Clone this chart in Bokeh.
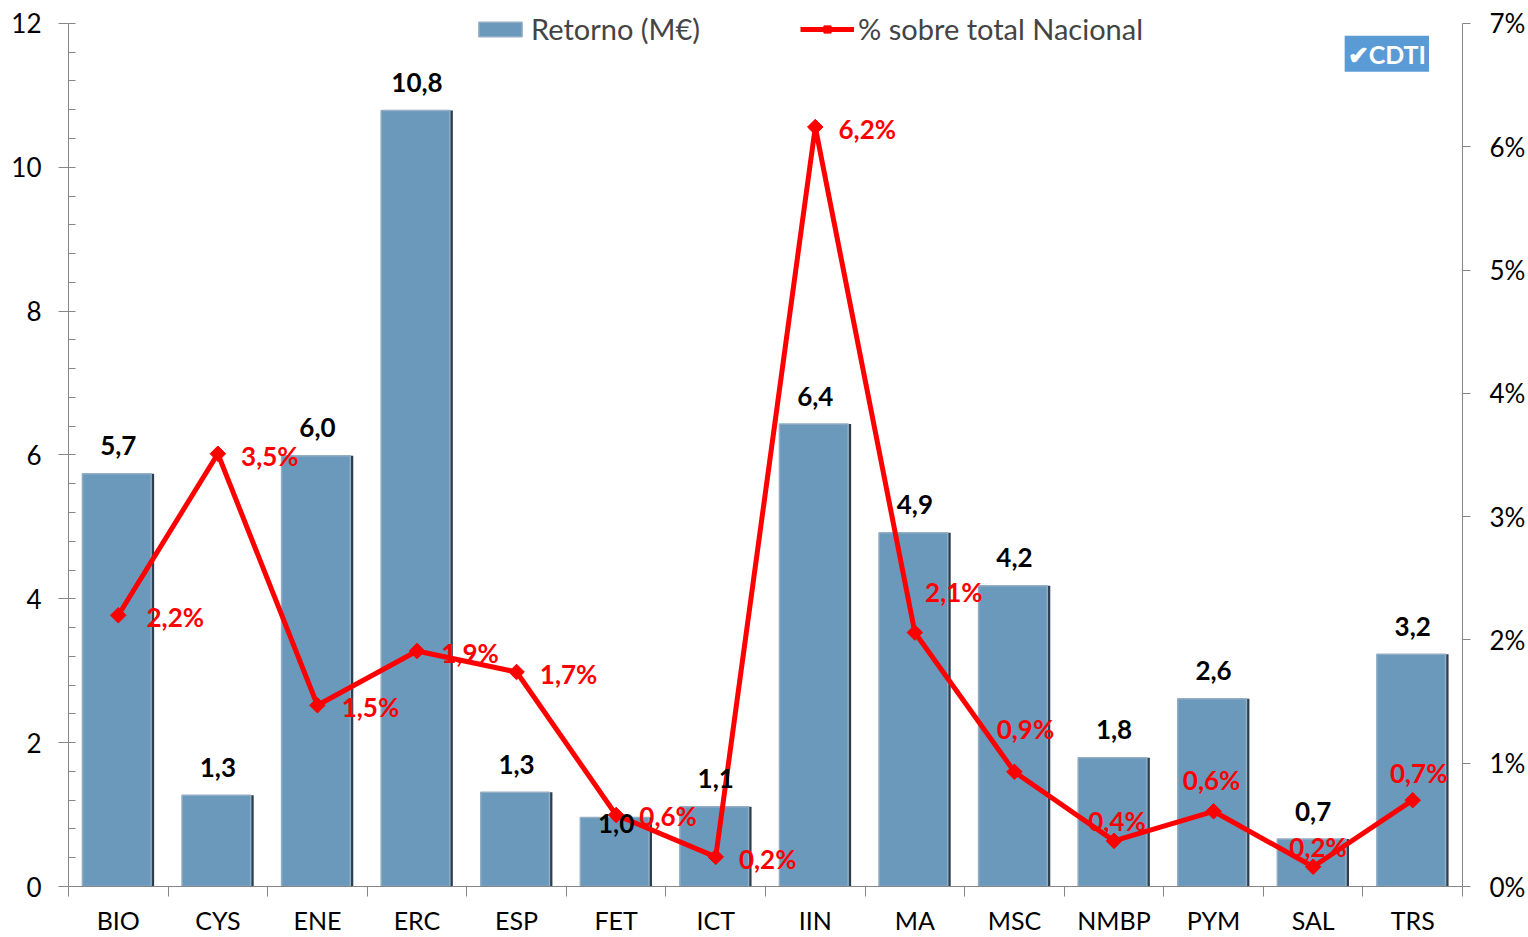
import math
from bokeh.plotting import figure
from bokeh.models import (ColumnDataSource, Range1d, LinearAxis, FixedTicker,
                          SingleIntervalTicker, PrintfTickFormatter, Legend, LegendItem, Label)
from bokeh.core.properties import value
from bokeh.embed import file_html
from bokeh.resources import INLINE

# ---- data ----
categories = ["BIO", "CYS", "ENE", "ERC", "ESP", "FET", "ICT", "IIN", "MA", "MSC", "NMBP", "PYM", "SAL", "TRS"]
retorno = [5.74, 1.27, 5.99, 10.79, 1.31, 0.96, 1.11, 6.43, 4.92, 4.18, 1.79, 2.61, 0.66, 3.23]
porcentaje = [2.20, 3.51, 1.47, 1.91, 1.74, 0.58, 0.24, 6.16, 2.06, 0.93, 0.37, 0.61, 0.16, 0.70]
ret_max = 12
pct_max = 7
pct_ticks = [0, 1, 2, 3, 4, 5, 6, 7]

# ---- label placement (screen px offsets, style only) ----
bar_label_dy = {"FET": 6}
pct_label_off = [(57, 2), (52, 2), (53, 2), (53, 2), (52, 2), (52, 1), (52, 2), (52, 2),
                 (39, -41), (11, -43), (3, -20), (-2, -31), (5, -20), (6, -27)]

FONT = "Lato"
HEAD = 1.0208  # headroom above the axes' top so the legend fits in the frame
n = len(categories)
xs = [i + 0.5 for i in range(n)]

src = ColumnDataSource(dict(
    x=xs,
    xl=[x - 0.015 for x in xs],
    ret=retorno,
    pct=porcentaje,
    ret_txt=[f"{v:.1f}".replace(".", ",") for v in retorno],
    pct_txt=[f"{v:.1f}".replace(".", ",") + "%" for v in porcentaje],
    bdy=[bar_label_dy.get(c, -28) for c in categories],
    pdx=[o[0] for o in pct_label_off],
    pdy=[o[1] for o in pct_label_off],
))

p = figure(width=1528, height=937, output_backend="svg", toolbar_location=None,
           x_range=Range1d(0, n), y_range=Range1d(0, ret_max * HEAD),
           min_border_left=68, min_border_right=66, min_border_top=5, min_border_bottom=50)
p.extra_y_ranges = {"pct": Range1d(0, pct_max * HEAD)}
p.outline_line_color = None
p.xgrid.visible = False
p.ygrid.visible = False
p.background_fill_color = "white"
p.border_fill_color = "white"

AX = "#868686"
# left axis
ya = p.yaxis[0]
ya.bounds = (0, ret_max)
ya.ticker = SingleIntervalTicker(interval=2, num_minor_ticks=5)
ya.axis_line_color = AX
ya.major_tick_line_color = AX
ya.minor_tick_line_color = AX
ya.major_tick_out = 10
ya.major_tick_in = 0
ya.minor_tick_out = 0
ya.minor_tick_in = 7
ya.major_label_standoff = 17
ya.major_label_text_font = FONT
ya.major_label_text_font_size = "26px"
ya.major_label_text_color = "black"

# right axis
ra = LinearAxis(y_range_name="pct", ticker=FixedTicker(ticks=pct_ticks),
                formatter=PrintfTickFormatter(format="%d%%"), bounds=(0, pct_max))
ra.axis_line_color = AX
ra.major_tick_line_color = AX
ra.minor_tick_line_color = None
ra.major_tick_out = 8
ra.major_tick_in = 0
ra.major_label_standoff = 19
ra.major_label_text_font = FONT
ra.major_label_text_font_size = "26px"
ra.major_label_text_color = "black"
p.add_layout(ra, "right")

# bottom axis
xa = p.xaxis[0]
xa.ticker = FixedTicker(ticks=xs, minor_ticks=list(range(n + 1)))
xa.major_label_overrides = {x: c for x, c in zip(xs, categories)}
xa.axis_line_color = AX
xa.major_tick_line_color = None
xa.major_tick_out = 0
xa.major_tick_in = 0
xa.minor_tick_line_color = AX
xa.minor_tick_out = 10
xa.minor_tick_in = 0
xa.major_label_standoff = 8
xa.major_label_text_font = FONT
xa.major_label_text_font_size = "25px"
xa.major_label_text_color = "black"

# bars (dark shadow + face)
p.vbar(x="x", top="ret", width=0.72, source=src, fill_color="#2c3f50", line_color=None)
bars = p.vbar(x="xl", top="ret", width=0.69, source=src, fill_color="#6A99BC",
              line_color="#93adc3", line_width=1.5)

# line
ln = p.line(x="x", y="pct", source=src, y_range_name="pct", line_color="#FF0000", line_width=5)
mk = p.scatter(x="x", y="pct", source=src, y_range_name="pct", marker="square", angle=math.pi / 4,
               size=11, fill_color="#FF0000", line_color="#FF0000")

# labels
p.text(x="x", y="ret", text="ret_txt", source=src, text_align="center", text_baseline="middle",
       y_offset="bdy", text_font=value(FONT), text_font_style="bold",
       text_font_size="26px", text_color="black")
p.text(x="x", y="pct", text="pct_txt", source=src, y_range_name="pct",
       text_align="center", text_baseline="middle", x_offset="pdx", y_offset="pdy",
       text_font=value(FONT), text_font_style="bold", text_font_size="26px", text_color="#FF0000")

# legend
legend = Legend(items=[LegendItem(label="Retorno (M€)", renderers=[bars]),
                       LegendItem(label="% sobre total Nacional", renderers=[ln, mk])],
                orientation="horizontal", location=(405, 840),
                glyph_width=54, glyph_height=18, spacing=100, padding=0, margin=0,
                label_standoff=4, label_text_font=FONT, label_text_font_size="29px",
                border_line_color=None, background_fill_alpha=0)
p.add_layout(legend, "center")

# logo
logo = Label(x=13.24, y=11.58, text="✔CDTI", text_align="center", text_baseline="middle",
             text_color="white", text_font=FONT, text_font_style="bold", text_font_size="25px",
             background_fill_color="#5B9BD5", padding=3)
p.add_layout(logo)

open("out.html", "w").write(file_html(p, INLINE))
